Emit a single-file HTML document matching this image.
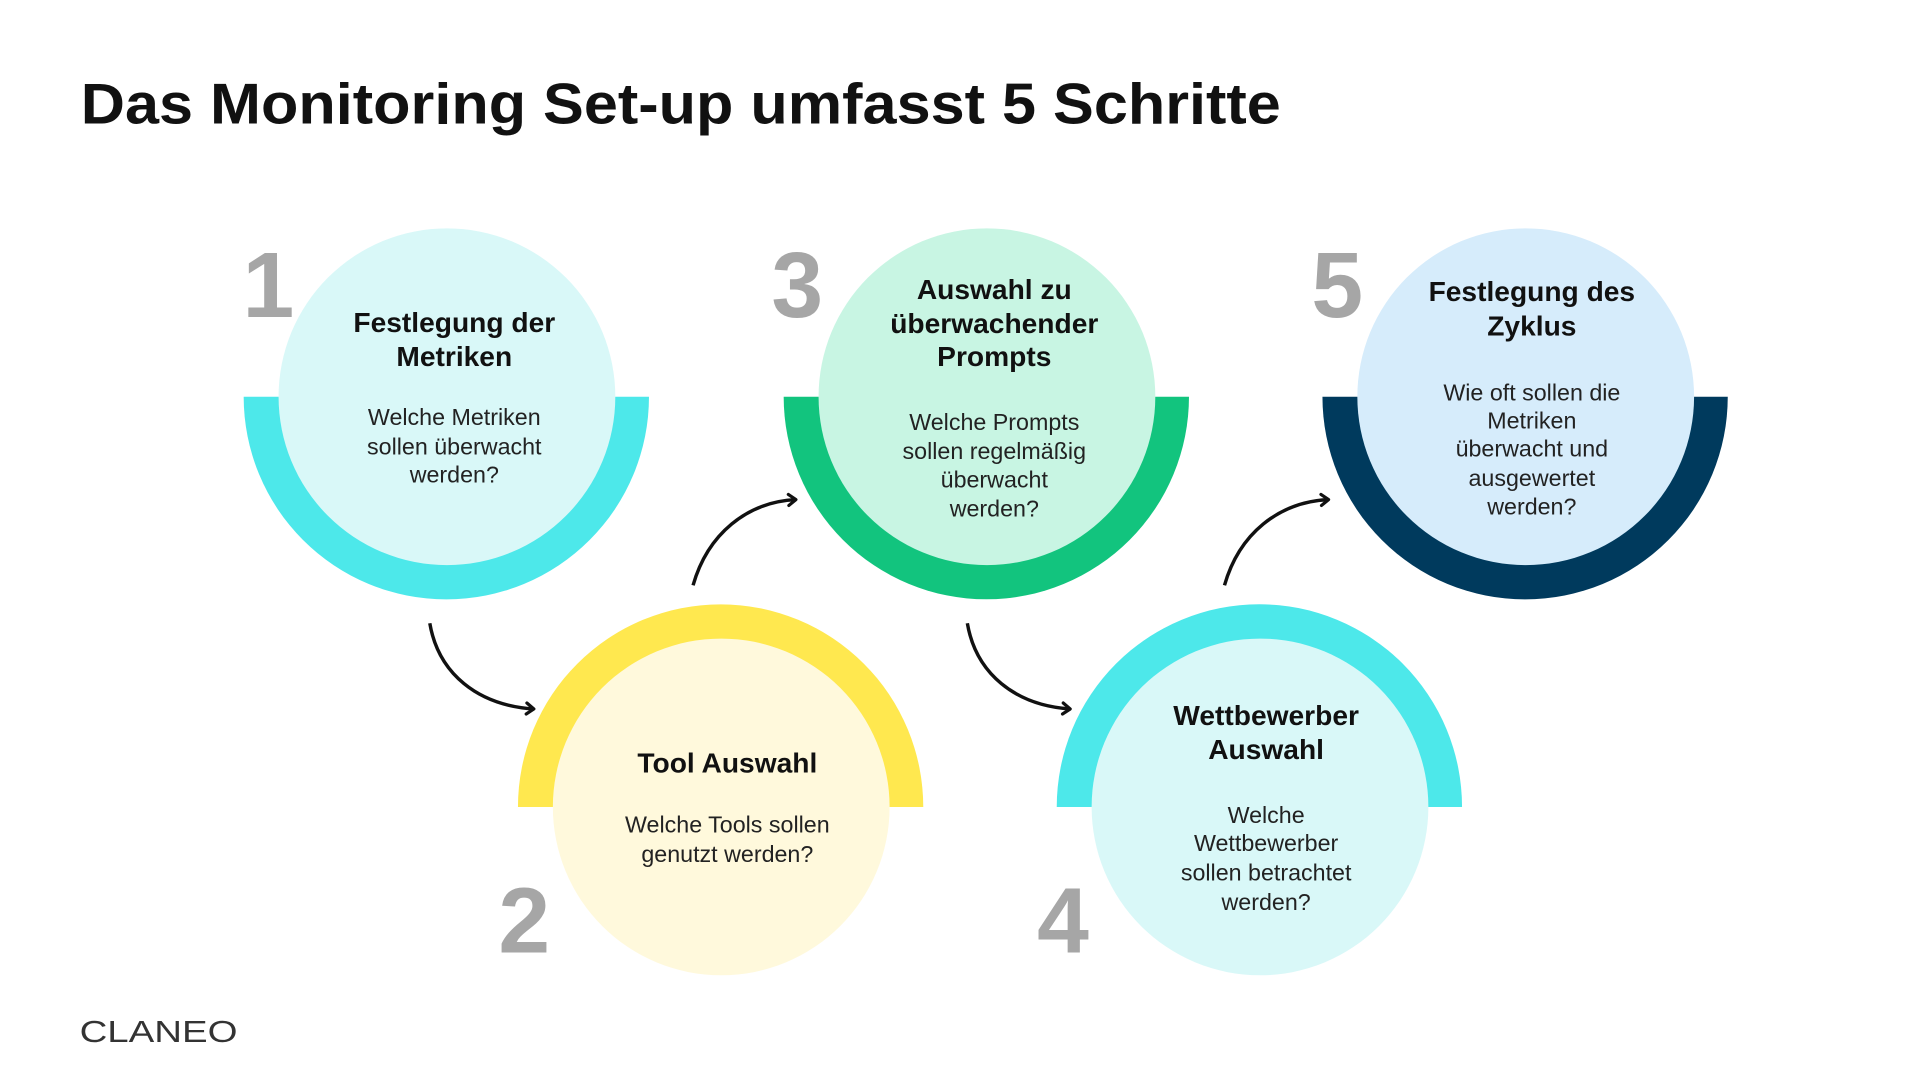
<!DOCTYPE html>
<html><head><meta charset="utf-8"><style>
html,body{margin:0;padding:0;background:#fff;}
svg{display:block;}
text{font-family:"Liberation Sans",sans-serif;}
</style></head><body>
<svg width="1920" height="1080" viewBox="0 0 1568 882" xmlns="http://www.w3.org/2000/svg">
<defs>
<marker id="ah" markerWidth="12" markerHeight="12" refX="8" refY="6" orient="auto" markerUnits="userSpaceOnUse">
<path d="M2,1.5 L8,6 L2,10.5" fill="none" stroke="#111" stroke-width="2.6" stroke-linecap="round" stroke-linejoin="round"/>
</marker>
</defs>
<rect width="1568" height="882" fill="#fff"/>
<text x="66" y="101" font-size="47" font-weight="bold" fill="#111" textLength="980" lengthAdjust="spacingAndGlyphs">Das Monitoring Set-up umfasst 5 Schritte</text>

<path d="M199,324 A165.5,165.5 0 0 0 530,324 Z" fill="#4de8ea"/>
<circle cx="365" cy="324" r="137.5" fill="#d9f8f8"/>
<path d="M640,324 A165.5,165.5 0 0 0 971,324 Z" fill="#12c47e"/>
<circle cx="806" cy="324" r="137.5" fill="#c8f5e3"/>
<path d="M1080,324 A165.5,165.5 0 0 0 1411,324 Z" fill="#003a5d"/>
<circle cx="1246" cy="324" r="137.5" fill="#d6ecfb"/>
<path d="M423,659 A165.5,165.5 0 0 1 754,659 Z" fill="#ffe84f"/>
<circle cx="589" cy="659" r="137.5" fill="#fff9dc"/>
<path d="M863,659 A165.5,165.5 0 0 1 1194,659 Z" fill="#4de8ea"/>
<circle cx="1029" cy="659" r="137.5" fill="#d9f8f8"/>

<g font-size="76" font-weight="bold" fill="#a6a6a6">
<text x="198" y="259">1</text>
<text x="630" y="259">3</text>
<text x="1071" y="259">5</text>
<text x="407" y="778">2</text>
<text x="847" y="778">4</text>
</g>

<g fill="none" stroke="#111" stroke-width="2.8" marker-end="url(#ah)">
<path d="M351,509 C358,550 390,576 436,579"/>
<path d="M566,478 C578,436 610,410 650,408"/>
<path d="M790,509 C797,550 829,576 874,579"/>
<path d="M1000,478 C1012,436 1044,410 1085,408"/>
</g>

<g font-size="23" font-weight="bold" fill="#111" text-anchor="middle">
<text x="371" y="271">Festlegung der</text>
<text x="371" y="299">Metriken</text>
<text x="812" y="244">Auswahl zu</text>
<text x="812" y="272">überwachender</text>
<text x="812" y="299">Prompts</text>
<text x="1251" y="246">Festlegung des</text>
<text x="1251" y="274">Zyklus</text>
<text x="594" y="631">Tool Auswahl</text>
<text x="1034" y="592">Wettbewerber</text>
<text x="1034" y="620">Auswahl</text>
</g>
<g font-size="19" fill="#222" text-anchor="middle">
<text x="371" y="347">Welche Metriken</text>
<text x="371" y="371">sollen überwacht</text>
<text x="371" y="394">werden?</text>
<text x="812" y="351">Welche Prompts</text>
<text x="812" y="375">sollen regelmäßig</text>
<text x="812" y="398">überwacht</text>
<text x="812" y="422">werden?</text>
<text x="1251" y="327">Wie oft sollen die</text>
<text x="1251" y="350">Metriken</text>
<text x="1251" y="373">überwacht und</text>
<text x="1251" y="397">ausgewertet</text>
<text x="1251" y="420">werden?</text>
<text x="594" y="680">Welche Tools sollen</text>
<text x="594" y="704">genutzt werden?</text>
<text x="1034" y="672">Welche</text>
<text x="1034" y="695">Wettbewerber</text>
<text x="1034" y="719">sollen betrachtet</text>
<text x="1034" y="743">werden?</text>
</g>

<text x="65" y="851" font-size="25" fill="#333" textLength="129" lengthAdjust="spacingAndGlyphs">CLANEO</text>
</svg>
</body></html>
